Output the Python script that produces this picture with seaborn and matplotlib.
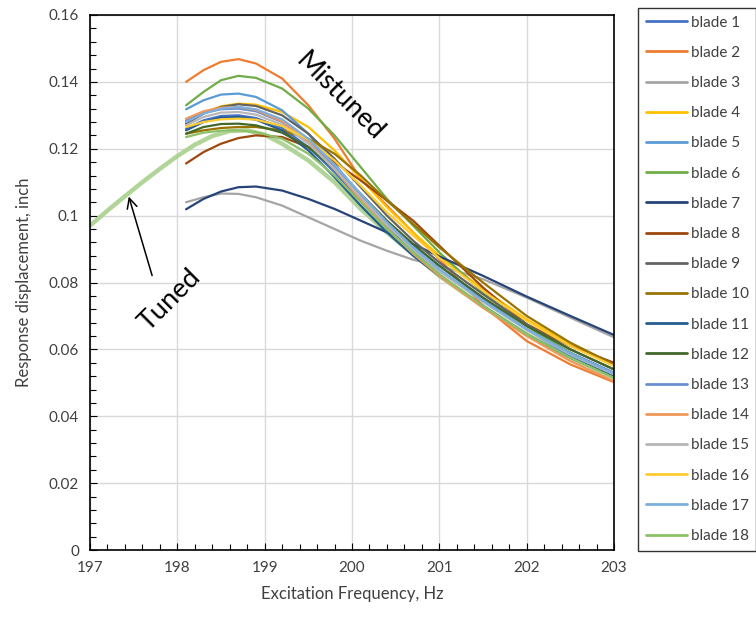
import matplotlib
matplotlib.use("Agg")
import matplotlib.pyplot as plt
import matplotlib.ticker as mticker
import seaborn as sns
import pandas as pd

# ---------------- data ----------------
freq = [198.1, 198.3, 198.5, 198.7, 198.9, 199.2, 199.5, 199.8,
        200.1, 200.4, 200.7, 201.0, 201.5, 202.0, 202.5, 203.0]

blade_1 = [0.1260, 0.1285, 0.1298, 0.1300, 0.1292, 0.1262, 0.1205, 0.1130, 0.1045, 0.0965, 0.0895, 0.0835, 0.0745, 0.0660, 0.0590, 0.0530]
blade_2 = [0.1400, 0.1435, 0.1460, 0.1468, 0.1455, 0.1410, 0.1330, 0.1230, 0.1110, 0.1030, 0.0950, 0.0870, 0.0730, 0.0625, 0.0555, 0.0502]
blade_3 = [0.1040, 0.1055, 0.1066, 0.1065, 0.1055, 0.1030, 0.0995, 0.0960, 0.0925, 0.0895, 0.0868, 0.0850, 0.0810, 0.0755, 0.0695, 0.0636]
blade_4 = [0.1280, 0.1308, 0.1327, 0.1335, 0.1332, 0.1310, 0.1265, 0.1195, 0.1110, 0.1025, 0.0950, 0.0880, 0.0780, 0.0690, 0.0615, 0.0555]
blade_5 = [0.1318, 0.1345, 0.1362, 0.1365, 0.1355, 0.1315, 0.1245, 0.1155, 0.1060, 0.0980, 0.0910, 0.0850, 0.0750, 0.0660, 0.0580, 0.0520]
blade_6 = [0.1330, 0.1370, 0.1405, 0.1418, 0.1412, 0.1380, 0.1320, 0.1240, 0.1145, 0.1050, 0.0970, 0.0890, 0.0770, 0.0670, 0.0590, 0.0520]
blade_7 = [0.1019, 0.1050, 0.1072, 0.1085, 0.1087, 0.1075, 0.1050, 0.1020, 0.0985, 0.0950, 0.0915, 0.0878, 0.0820, 0.0758, 0.0700, 0.0643]
blade_8 = [0.1156, 0.1190, 0.1215, 0.1232, 0.1240, 0.1235, 0.1205, 0.1160, 0.1105, 0.1045, 0.0985, 0.0910, 0.0785, 0.0675, 0.0610, 0.0560]
blade_9 = [0.1275, 0.1305, 0.1325, 0.1333, 0.1328, 0.1300, 0.1245, 0.1170, 0.1085, 0.1000, 0.0925, 0.0860, 0.0765, 0.0675, 0.0600, 0.0540]
blade_10 = [0.1245, 0.1255, 0.1262, 0.1265, 0.1265, 0.1255, 0.1230, 0.1185, 0.1120, 0.1045, 0.0975, 0.0905, 0.0800, 0.0700, 0.0620, 0.0555]
blade_11 = [0.1255, 0.1280, 0.1293, 0.1295, 0.1287, 0.1255, 0.1195, 0.1115, 0.1030, 0.0950, 0.0880, 0.0820, 0.0730, 0.0645, 0.0575, 0.0520]
blade_12 = [0.1245, 0.1265, 0.1274, 0.1275, 0.1270, 0.1248, 0.1205, 0.1140, 0.1065, 0.0985, 0.0915, 0.0850, 0.0755, 0.0670, 0.0600, 0.0540]
blade_13 = [0.1285, 0.1307, 0.1318, 0.1320, 0.1312, 0.1280, 0.1222, 0.1145, 0.1058, 0.0975, 0.0900, 0.0838, 0.0745, 0.0660, 0.0588, 0.0528]
blade_14 = [0.1290, 0.1312, 0.1323, 0.1325, 0.1316, 0.1282, 0.1220, 0.1138, 0.1048, 0.0962, 0.0886, 0.0820, 0.0725, 0.0640, 0.0565, 0.0505]
blade_15 = [0.1270, 0.1295, 0.1308, 0.1310, 0.1302, 0.1272, 0.1215, 0.1140, 0.1055, 0.0972, 0.0898, 0.0835, 0.0742, 0.0658, 0.0585, 0.0525]
blade_16 = [0.1265, 0.1280, 0.1288, 0.1290, 0.1287, 0.1268, 0.1228, 0.1165, 0.1090, 0.1010, 0.0940, 0.0873, 0.0775, 0.0685, 0.0610, 0.0550]
blade_17 = [0.1280, 0.1305, 0.1320, 0.1325, 0.1318, 0.1288, 0.1230, 0.1152, 0.1065, 0.0980, 0.0905, 0.0840, 0.0745, 0.0660, 0.0588, 0.0528]
blade_18 = [0.1235, 0.1248, 0.1254, 0.1255, 0.1250, 0.1230, 0.1185, 0.1120, 0.1040, 0.0960, 0.0890, 0.0825, 0.0730, 0.0645, 0.0575, 0.0515]

tuned_freq = [197.0, 197.2, 197.4, 197.6, 197.8, 198.0, 198.2, 198.4, 198.6, 198.8, 199.0,
              199.2, 199.5, 199.8, 200.1, 200.4, 200.7, 201.0, 201.5, 202.0, 202.5, 203.0]
tuned_resp = [0.0970, 0.1015, 0.1058, 0.1100, 0.1140, 0.1178, 0.1212, 0.1238, 0.1253, 0.1255, 0.1242,
              0.1215, 0.1165, 0.1100, 0.1020, 0.0950, 0.0885, 0.0820, 0.0728, 0.0645, 0.0575, 0.0515]

blade_names = ["blade %d" % i for i in range(1, 19)]
blade_values = [blade_1, blade_2, blade_3, blade_4, blade_5, blade_6, blade_7, blade_8, blade_9,
                blade_10, blade_11, blade_12, blade_13, blade_14, blade_15, blade_16, blade_17, blade_18]
blade_colors = ["#4472C4", "#ED7D31", "#A5A5A5", "#FFC000", "#5B9BD5", "#70AD47",
                "#264478", "#9E480E", "#636363", "#997300", "#255E91", "#43682B",
                "#698ED0", "#F1975A", "#B7B7B7", "#FFCD33", "#7CAFDD", "#8CC168"]

x_ticks = [197, 198, 199, 200, 201, 202, 203]
y_ticks = [0, 0.02, 0.04, 0.06, 0.08, 0.1, 0.12, 0.14, 0.16]
y_tick_labels = ["0", "0.02", "0.04", "0.06", "0.08", "0.1", "0.12", "0.14", "0.16"]

# ---------------- build table ----------------
rows = []
for name, vals in zip(blade_names, blade_values):
    for f, v in zip(freq, vals):
        rows.append({"freq": f, "resp": v, "blade": name})
df = pd.DataFrame(rows)
tuned_df = pd.DataFrame({"freq": tuned_freq, "resp": tuned_resp})

# ---------------- plot ----------------
sns.set_theme(style="white")
plt.rcParams["font.family"] = ["Lato", "DejaVu Sans"]

fig = plt.figure(figsize=(7.56, 6.2), dpi=100)
ax = fig.add_axes([90 / 756, 70 / 620, 524 / 756, 535 / 620])

sns.lineplot(data=tuned_df, x="freq", y="resp", color="#A9D18E", linewidth=3.2,
             ax=ax, legend=False, alpha=0.9)
sns.lineplot(data=df, x="freq", y="resp", hue="blade", hue_order=blade_names,
             palette=dict(zip(blade_names, blade_colors)), linewidth=1.6,
             ax=ax, sort=True)

ax.set_xlim(197, 203)
ax.set_ylim(0, 0.16)
ax.set_xticks(x_ticks)
ax.set_yticks(y_ticks)
ax.set_yticklabels(y_tick_labels)
ax.xaxis.set_minor_locator(mticker.MultipleLocator(0.2))
ax.yaxis.set_minor_locator(mticker.MultipleLocator(0.004))
ax.tick_params(axis="both", which="both", direction="in", colors="black",
               labelcolor="#404040", labelsize=11)
ax.tick_params(axis="both", which="major", length=5, width=0.8, pad=8)
ax.tick_params(axis="both", which="minor", length=4, width=0.8)
ax.tick_params(axis="y", which="both", left=True)
ax.tick_params(axis="x", which="both", bottom=True)
ax.grid(True, which="major", color="#D9D9D9", linewidth=1)
for s in ax.spines.values():
    s.set_color("black")
    s.set_linewidth(1.2)

ax.set_xlabel("Excitation Frequency, Hz", fontsize=12, color="#404040", labelpad=8)
ax.set_ylabel("Response displacement, inch", fontsize=12, color="#404040", labelpad=12)

ax.text(199.86, 0.1355, "Mistuned", rotation=-45, fontsize=19.5, ha="center", va="center",
        color="black")
ax.text(197.92, 0.0748, "Tuned", rotation=45, fontsize=19.5, ha="center", va="center",
        color="black")
ax.annotate("", xy=(197.435, 0.1065), xytext=(197.72, 0.0813),
            arrowprops=dict(arrowstyle="->", color="black", lw=1.1, mutation_scale=18))

leg = ax.legend(loc="upper left", bbox_to_anchor=(638 / 756, 1 - 8 / 620),
                bbox_transform=fig.transFigure, frameon=True, fancybox=False,
                edgecolor="black", fontsize=11, labelspacing=1.06, handlelength=2.7,
                handletextpad=0.25, borderpad=0.5, borderaxespad=0, title=None)
leg.get_frame().set_linewidth(1.0)
for t in leg.get_texts():
    t.set_color("#404040")
for h in leg.get_lines():
    h.set_linewidth(2.0)

fig.savefig("out.png", dpi=100)
